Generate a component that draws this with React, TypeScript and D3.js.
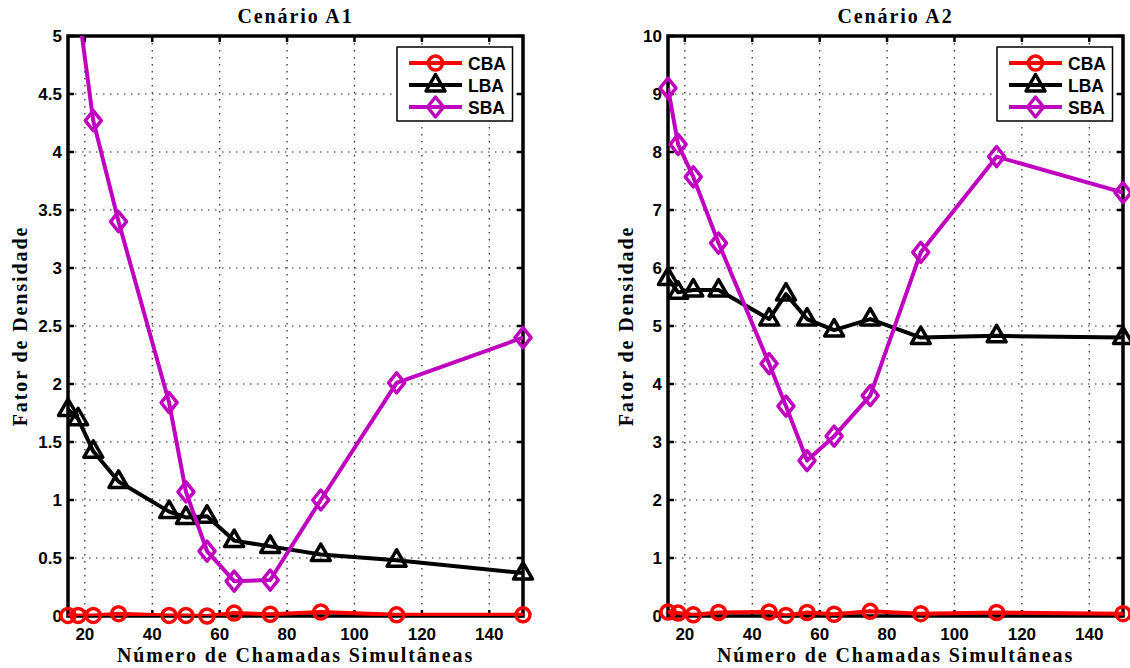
import React from 'react';
import * as d3 from 'd3';

// Number of simultaneous calls (x values)
const xValues = [15, 18, 22.5, 30, 45, 50, 56.25, 64.29, 75, 90, 112.5, 150];
const xTicks = [20, 40, 60, 80, 100, 120, 140];

// Cenário A1
const a1CBA = [0.005, 0.005, 0.005, 0.02, 0.005, 0.005, 0.0, 0.025, 0.015, 0.035, 0.01, 0.01];
const a1LBA = [1.78, 1.7, 1.42, 1.16, 0.9, 0.85, 0.86, 0.65, 0.6, 0.53, 0.48, 0.37];
const a1SBA = [6.3, 5.25, 4.27, 3.4, 1.84, 1.07, 0.56, 0.3, 0.31, 1.0, 2.01, 2.4];
const a1YTicks = [0, 0.5, 1, 1.5, 2, 2.5, 3, 3.5, 4, 4.5, 5];
const a1YLabels = ['0', '0.5', '1', '1.5', '2', '2.5', '3', '3.5', '4', '4.5', '5'];

// Cenário A2
const a2CBA = [0.07, 0.05, 0.02, 0.06, 0.07, 0.01, 0.06, 0.03, 0.08, 0.04, 0.06, 0.04];
const a2LBA = [5.82, 5.58, 5.62, 5.62, 5.12, 5.55, 5.12, 4.93, 5.12, 4.8, 4.83, 4.8];
const a2SBA = [9.1, 8.13, 7.57, 6.43, 4.35, 3.62, 2.68, 3.1, 3.8, 6.27, 7.92, 7.3];
const a2YTicks = [0, 1, 2, 3, 4, 5, 6, 7, 8, 9, 10];
const a2YLabels = ['0', '1', '2', '3', '4', '5', '6', '7', '8', '9', '10'];

const seriesNames = ['CBA', 'LBA', 'SBA'];
const seriesColors = ['#ff0000', '#000000', '#bf00bf'];
const seriesMarkers = ['circle', 'triangle', 'diamond'];

const SERIF = "'Liberation Serif', 'Times New Roman', serif";
const SANS = "'Liberation Sans', Arial, sans-serif";

function Marker({ type, x, y, color }: { type: string; x: number; y: number; color: string }) {
  const common = { fill: 'none', stroke: color, strokeWidth: 3.5, strokeLinejoin: 'round' as const };
  if (type === 'circle') return <circle cx={x} cy={y} r={7} {...common} />;
  if (type === 'triangle')
    return <path d={`M${x},${y - 10.5}L${x + 9.5},${y + 6}L${x - 9.5},${y + 6}Z`} {...common} />;
  return <path d={`M${x},${y - 10}L${x + 8},${y}L${x},${y + 10}L${x - 8},${y}Z`} {...common} />;
}

function Panel({
  id, left, right, title, yMax, yTicks, yLabels, data, ylabelX,
}: {
  id: string; left: number; right: number; title: string; yMax: number;
  yTicks: number[]; yLabels: string[]; data: number[][]; ylabelX: number;
}) {
  const top = 36;
  const bottom = 616;
  const x = d3.scaleLinear().domain([15, 150]).range([left, right]);
  const y = d3.scaleLinear().domain([0, yMax]).range([bottom, top]);
  const line = d3.line<[number, number]>().x((d) => x(d[0])).y((d) => y(d[1]));
  const cx = (left + right) / 2;
  const cy = (top + bottom) / 2;
  const legL = right - 126;
  const legT = 47;
  return (
    <g>
      <defs>
        <clipPath id={`clip-${id}`}>
          <rect x={left} y={top} width={right - left} height={bottom - top} />
        </clipPath>
      </defs>
      <rect x={left} y={top} width={right - left} height={bottom - top} fill="#fff" />
      {/* grid */}
      {xTicks.map((t) => (
        <line key={`gx${t}`} x1={x(t)} x2={x(t)} y1={top} y2={bottom} stroke="#222" strokeWidth={1.2} strokeDasharray="1.5,5.5" />
      ))}
      {yTicks.slice(1, -1).map((t) => (
        <line key={`gy${t}`} x1={left} x2={right} y1={y(t)} y2={y(t)} stroke="#222" strokeWidth={1.2} strokeDasharray="1.5,5.5" />
      ))}
      {/* ticks */}
      {xTicks.map((t) => (
        <g key={`tx${t}`}>
          <line x1={x(t)} x2={x(t)} y1={bottom} y2={bottom - 6} stroke="#000" strokeWidth={2.5} />
          <line x1={x(t)} x2={x(t)} y1={top} y2={top + 6} stroke="#000" strokeWidth={2.5} />
          <text x={x(t)} y={640} textAnchor="middle" fontFamily={SANS} fontWeight="bold" fontSize={17}>{t}</text>
        </g>
      ))}
      {yTicks.map((t, i) => (
        <g key={`ty${t}`}>
          <line x1={left} x2={left + 6} y1={y(t)} y2={y(t)} stroke="#000" strokeWidth={2.5} />
          <line x1={right} x2={right - 6} y1={y(t)} y2={y(t)} stroke="#000" strokeWidth={2.5} />
          <text x={left - 6} y={y(t) + 6} textAnchor="end" fontFamily={SANS} fontWeight="bold" fontSize={17}>{yLabels[i]}</text>
        </g>
      ))}
      {/* frame */}
      <rect x={left} y={top} width={right - left} height={bottom - top} fill="none" stroke="#000" strokeWidth={3.5} />
      {/* data */}
      {data.map((vals, si) => {
        const pts: [number, number][] = xValues.map((xv, i) => [xv, vals[i]]);
        return (
          <g key={seriesNames[si]}>
            <path d={line(pts) || ''} fill="none" stroke={seriesColors[si]} strokeWidth={4} strokeLinejoin="round" clipPath={`url(#clip-${id})`} />
            {pts.filter((p) => p[1] <= yMax).map((p, i) => (
              <Marker key={i} type={seriesMarkers[si]} x={x(p[0])} y={y(p[1])} color={seriesColors[si]} />
            ))}
          </g>
        );
      })}
      {/* legend */}
      <rect x={legL} y={legT} width={115.5} height={74} fill="#fff" stroke="#000" strokeWidth={1.5} />
      {seriesNames.map((n, i) => {
        const ry = legT + 16 + i * 22;
        return (
          <g key={n}>
            <line x1={legL + 12} x2={legL + 65} y1={ry} y2={ry} stroke={seriesColors[i]} strokeWidth={4} />
            <Marker type={seriesMarkers[i]} x={legL + 38.5} y={ry} color={seriesColors[i]} />
            <text x={legL + 71} y={ry + 6.5} fontFamily={SANS} fontWeight="bold" fontSize={17.5}>{n}</text>
          </g>
        );
      })}
      {/* titles */}
      <text x={cx} y={23} textAnchor="middle" fontFamily={SERIF} fontWeight="bold" fontSize={20} letterSpacing="1.9px">{title}</text>
      <text x={cx} y={662} textAnchor="middle" fontFamily={SERIF} fontWeight="bold" fontSize={20} letterSpacing="1.9px">Número de Chamadas Simultâneas</text>
      <text transform={`translate(${ylabelX},${cy}) rotate(-90)`} textAnchor="middle" fontFamily={SERIF} fontWeight="bold" fontSize={20} letterSpacing="1.9px">Fator de Densidade</text>
    </g>
  );
}

export default function App() {
  return (
    <svg width={1130} height={668} style={{ position: 'absolute', left: 0, top: 0, background: '#fff' }}>
      <rect width={1130} height={668} fill="#fff" />
      <Panel id="a1" left={68} right={523} title="Cenário A1" yMax={5} yTicks={a1YTicks} yLabels={a1YLabels} data={[a1CBA, a1LBA, a1SBA]} ylabelX={27} />
      <Panel id="a2" left={668} right={1123} title="Cenário A2" yMax={10} yTicks={a2YTicks} yLabels={a2YLabels} data={[a2CBA, a2LBA, a2SBA]} ylabelX={633} />
    </svg>
  );
}
